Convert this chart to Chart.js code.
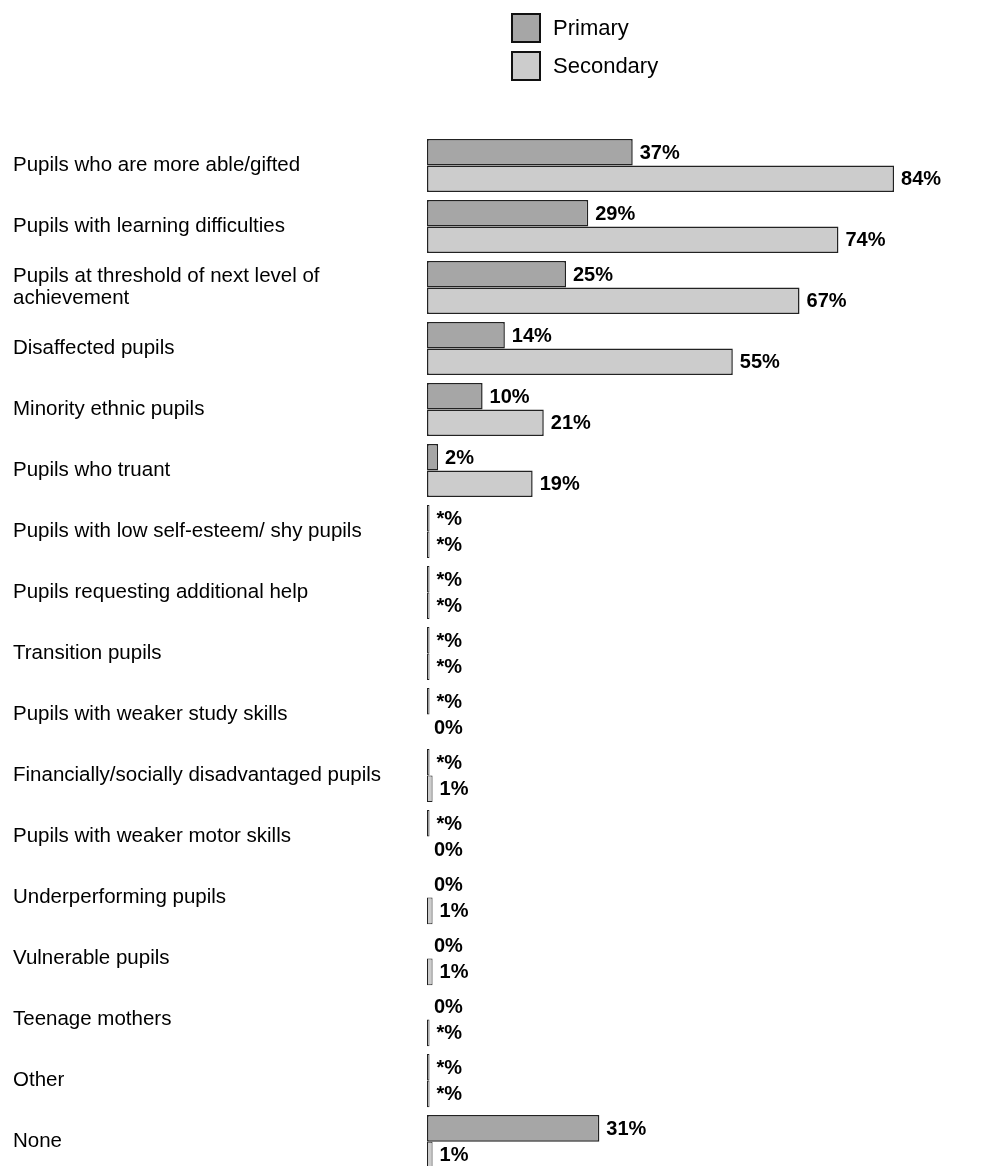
<!DOCTYPE html>
<html>
<head>
<meta charset="utf-8">
<script src="https://cdn.jsdelivr.net/npm/chart.js@4.4.1/dist/chart.umd.min.js"></script>
<style>
  body { margin: 0; background: #fff; font-family: "Liberation Sans", Arial, sans-serif; }
  #wrap { position: relative; width: 992px; height: 1166px; overflow: hidden; }
  #legend { position: absolute; left: 511px; top: 13px; }
  .item { display: flex; align-items: center; height: 30px; margin-bottom: 8px; }
  .box { width: 26px; height: 26px; border: 2px solid #111; margin-right: 12px; }
  .item span { font-size: 22px; color: #000; }
</style>
</head>
<body>
<div id="wrap">
  <canvas id="chart" width="992" height="1186"></canvas>
  <div id="legend"></div>
</div>
<script>
const categories = [
    'Pupils who are more able/gifted',
    'Pupils with learning difficulties',
    ['Pupils at threshold of next level of', 'achievement'],
    'Disaffected pupils',
    'Minority ethnic pupils',
    'Pupils who truant',
    'Pupils with low self-esteem/ shy pupils',
    'Pupils requesting additional help',
    'Transition pupils',
    'Pupils with weaker study skills',
    'Financially/socially disadvantaged pupils',
    'Pupils with weaker motor skills',
    'Underperforming pupils',
    'Vulnerable pupils',
    'Teenage mothers',
    'Other',
    'None'
];
// 0.45 stands for "less than half a percent", printed as *%
const primary = [37, 29, 25, 14, 10, 2, 0.45, 0.45, 0.45, 0.45, 0.45, 0.45, 0, 0, 0, 0.45, 31];
const secondary = [84, 74, 67, 55, 21, 19, 0.45, 0.45, 0.45, 0, 1, 0, 1, 1, 0.45, 0.45, 1];

const FONT = '"Liberation Sans", Arial, sans-serif';

function pctLabel(v) {
    if (v > 0 && v < 0.5) return '*%';
    return Math.round(v) + '%';
}

const valueLabels = {
    id: 'valueLabels',
    afterDatasetsDraw(chart) {
        const ctx = chart.ctx;
        ctx.save();
        ctx.font = 'bold 20px ' + FONT;
        ctx.fillStyle = '#000';
        ctx.textAlign = 'left';
        ctx.textBaseline = 'middle';
        chart.data.datasets.forEach((ds, i) => {
            chart.getDatasetMeta(i).data.forEach((bar, j) => {
                ctx.fillText(pctLabel(ds.data[j]), bar.x + 7, bar.y + 1);
            });
        });
        ctx.restore();
    }
};

const datasets = [
    { label: 'Primary', data: primary, backgroundColor: '#a6a6a6' },
    { label: 'Secondary', data: secondary, backgroundColor: '#cccccc' }
].map(d => Object.assign(d, {
    borderColor: '#222',
    borderWidth: c => (c.raw < 2 ? 1 : 1.5),
    borderSkipped: false,
    barPercentage: 1,
    categoryPercentage: 0.87
}));

new Chart(document.getElementById('chart'), {
    type: 'bar',
    data: { labels: categories, datasets },
    plugins: [valueLabels],
    options: {
        indexAxis: 'y',
        responsive: false,
        animation: false,
        layout: { padding: { left: 13, top: 135, right: 9, bottom: 0 } },
        plugins: { legend: { display: false }, tooltip: { enabled: false } },
        scales: {
            x: { display: false, min: 0, max: 100 },
            y: {
                grid: { display: false },
                border: { display: false },
                afterFit(scale) { scale.width = 414; },
                ticks: {
                    crossAlign: 'far',
                    color: '#000',
                    font: { family: FONT, size: 20.5, lineHeight: 1.06 }
                }
            }
        }
    }
});

// legend stacked vertically above the bars
const legend = document.getElementById('legend');
datasets.forEach(d => {
    const item = document.createElement('div');
    item.className = 'item';
    item.innerHTML = `<div class="box" style="background:${d.backgroundColor}"></div><span>${d.label}</span>`;
    legend.appendChild(item);
});
</script>
</body>
</html>
